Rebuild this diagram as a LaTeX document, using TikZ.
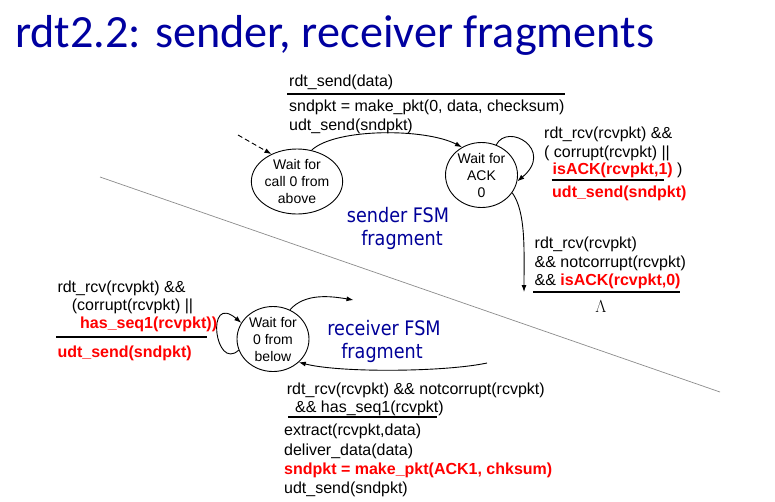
\documentclass[tikz,border=0pt]{standalone}
\usepackage{fontspec}
\setmainfont{Liberation Sans}
\newfontfamily\titlefont{Carlito}
\newfontfamily\fsmfont[FakeStretch=0.88]{DejaVu Sans}
\usetikzlibrary{arrows.meta,shapes.geometric}
\definecolor{titleblue}{RGB}{0,0,160}
\definecolor{fsmblue}{RGB}{0,0,153}
\definecolor{hotred}{RGB}{255,0,0}
\definecolor{rulegray}{RGB}{140,140,140}
\newcommand{\redbf}[1]{\textcolor{hotred}{\bfseries #1}}

\begin{document}
\begin{tikzpicture}[x=1pt,y=-1pt,
  state/.style={draw, ellipse, line width=0.9pt, minimum width=72pt, minimum height=65pt,
    inner sep=0pt, align=center, font=\fontsize{14}{17}\selectfont},
  lab/.style={anchor=base west, inner sep=0pt, font=\fontsize{16}{19}\selectfont},
  fsm/.style={anchor=base, inner sep=0pt, text=fsmblue, font=\fsmfont\fontsize{20}{24}\selectfont},
  arr/.style={line width=0.9pt, -{Latex[length=7pt,width=5pt]}},
  uline/.style={line width=2pt},
  divider/.style={line width=0.7pt, draw=rulegray}]

% canvas
\fill[white] (0,0) rectangle (775,501);
\useasboundingbox (0,0) rectangle (775,501);

% heading
\node[anchor=base west, inner sep=0pt, text=titleblue,
      font=\titlefont\fontsize{46.2}{50}\selectfont] (title) at (15,47)
      {rdt2.2: sender, receiver fragments};

% line separating sender and receiver halves
\draw[divider] (100,177) -- (720,392);

% ---------------- sender ----------------
\node[state] (s1) at (297,181.5) {Wait for\\call 0 from\\above};
\node[state] (s2) at (481.5,175) {Wait for\\ACK\\0};

\coordinate (init) at (238,135);
\draw[arr, dash pattern=on 5pt off 3pt] (init) -- (s1.133);

\draw[arr] (s1.65) .. controls (335,128) and (425,128) .. (s2.125);
\draw[arr] (s2.64) .. controls (508,122) and (555,150) .. (s2.-10);
\coordinate (ackend) at (524,292);
\draw[arr] (s2.-30) .. controls (526,212) and (524,250) .. (ackend);

% rdt_send transition
\node[lab] (t1a) at (289,86.5) {rdt\_send(data)};
\draw[uline] (287,94.3) -- (565,94.3);
\node[lab] (t1b) at (289,111.5) {sndpkt = make\_pkt(0, data, checksum)};
\node[lab] (t1c) at (289,130) {udt\_send(sndpkt)};

% self-loop on Wait for ACK 0
\node[lab] (t2a) at (544,138.5) {rdt\_rcv(rcvpkt) \&\&};
\node[lab] (t2b) at (544,157) {( corrupt(rcvpkt) \textbar\textbar};
\node[lab] (t2c) at (552.5,174.5) {\redbf{isACK(rcvpkt,1)} )};
\draw[uline] (551.7,179.5) -- (664,179.5);
\node[lab] (t2d) at (552,197) {\redbf{udt\_send(sndpkt)}};

% leaving Wait for ACK 0
\node[lab] (t3a) at (534.5,248.5) {rdt\_rcv(rcvpkt)};
\node[lab] (t3b) at (534.5,267) {\&\& notcorrupt(rcvpkt)};
\node[lab] (t3c) at (534.5,285.5) {\&\& \redbf{isACK(rcvpkt,0)}};
\draw[uline] (533,291.7) -- (680,291.7);
\node[inner sep=0pt, anchor=base, font=\fontsize{16}{19}\selectfont] (lam) at (601,312) {$\Lambda$};

\node[fsm] (sfsm1) at (398,222) {sender FSM};
\node[fsm] (sfsm2) at (402,245) {fragment};

% ---------------- receiver ----------------
\node[state] (s3) at (273,339) {Wait for\\0 from\\below};

\draw[arr] (s3.198) .. controls (215,372) and (205,292) .. (s3.153);
\coordinate (rout) at (353.5,300);
\draw[arr] (s3.60) .. controls (305,293) and (330,296) .. (rout);
\coordinate (rin) at (487,363);
\draw[arr] (rin) .. controls (445,372) and (340,373) .. (s3.-42);

% self-loop on Wait for 0 from below
\node[lab] (r1a) at (57.3,292) {rdt\_rcv(rcvpkt) \&\&};
\node[lab] (r1b) at (71.7,310.5) {(corrupt(rcvpkt) \textbar\textbar};
\node[lab] (r1c) at (80,328.5) {\redbf{has\_seq1(rcvpkt))}};
\draw[uline] (56,337) -- (206.7,337);
\node[lab] (r1d) at (57.3,357) {\redbf{udt\_send(sndpkt)}};

% in-sequence packet
\node[lab] (r2a) at (286.7,394) {rdt\_rcv(rcvpkt) \&\& notcorrupt(rcvpkt)};
\node[lab] (r2b) at (295,412) {\&\& has\_seq1(rcvpkt)};
\draw[uline] (288,417.3) -- (437.3,417.3);
\node[lab] (r2c) at (284,435.5) {extract(rcvpkt,data)};
\node[lab] (r2d) at (284,455) {deliver\_data(data)};
\node[lab] (r2e) at (284,474) {\redbf{sndpkt = make\_pkt(ACK1, chksum)}};
\node[lab] (r2f) at (284,493) {udt\_send(sndpkt)};

\node[fsm] (rfsm1) at (384,335) {receiver FSM};
\node[fsm] (rfsm2) at (382,358) {fragment};

\end{tikzpicture}
\end{document}
